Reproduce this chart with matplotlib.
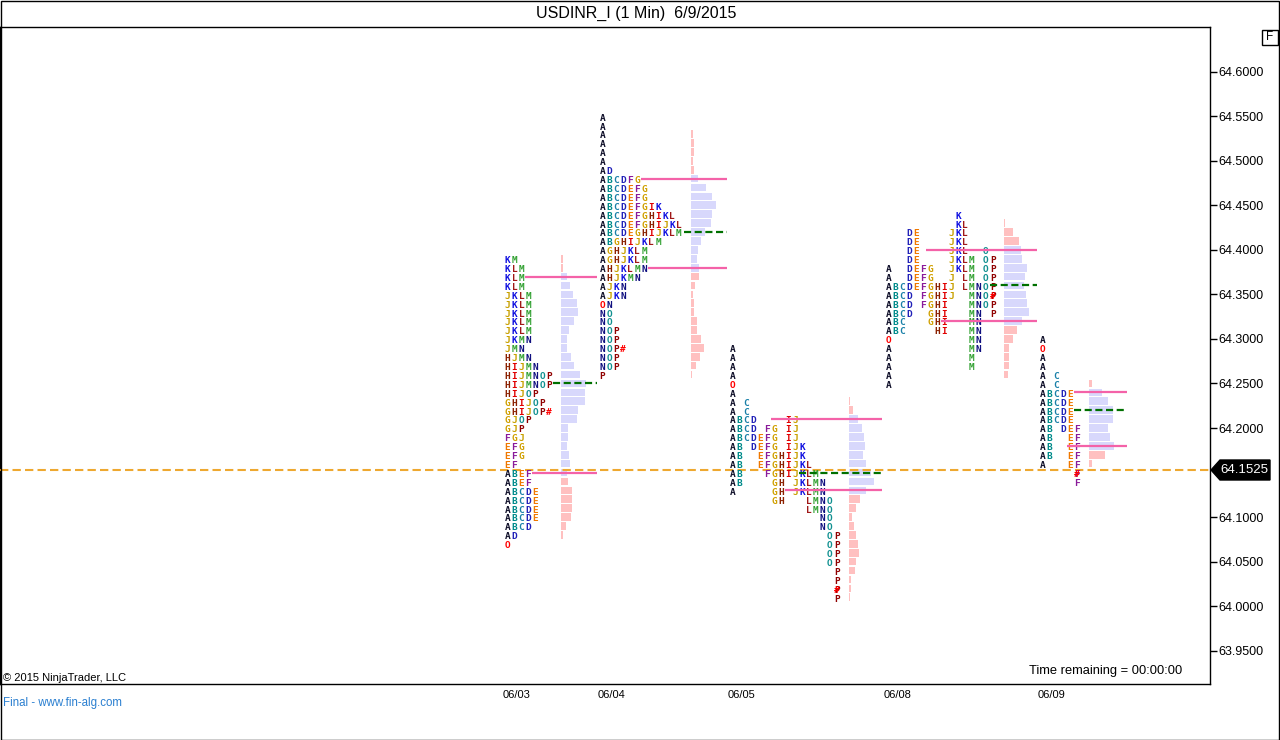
import numpy as np
import matplotlib
matplotlib.use("Agg")
import matplotlib.pyplot as plt
from matplotlib.patches import Polygon, Rectangle

W, H = 1280, 740

# ---- values ----
days = ["06/03", "06/04", "06/05", "06/08", "06/09"]

# TPO letters, one string per 0.01 row from the top price down
# '@' = red open marker, '#' = red close marker
tpo_top = [64.39, 64.55, 64.29, 64.44, 64.30]
tpo_0603 = ["KM", "KLM", "KLM", "KLM", "JKLM", "JKLM", "JKLM", "JKLM", "JKLM",
            "JKMN", "JMN", "HJMN", "HIJMN", "HIJMNOP", "HIJMNOP", "HIJOP",
            "GHIJOP", "GHIJOP#", "GJOP", "GJP", "FGJ", "EFG", "EFG", "EF",
            "ABEF", "ABEF", "ABCDE", "ABCDE", "ABCDE", "ABCDE", "ABCD", "AD", "@"]
tpo_0604 = ["A", "A", "A", "A", "A", "A", "AD", "ABCDFG", "ABCDEFG", "ABCDEFG",
            "ABCDEFGIK", "ABCDEFGHIKL", "ABCDEFGHIJKL", "ABCDEGHIJKLM",
            "ABGHIJKLM", "AGHJKLM", "AGHJKLM", "AHJKLMN", "AHJKMN", "AJKN",
            "AJKN", "@N", "NO", "NO", "NOP", "NOP", "NOP#", "NOP", "NOP", "P"]
tpo_0605 = ["A", "A", "A", "A", "@", "A", "AC", "AC", "ABCDIJ", "ABCDFGIJ",
            "ABCDEFGIJ", "ABDEFGIJK", "ABEFGHIJK", "ABEFGHIJKL", "ABFGHIJKLM",
            "ABGHJKLMN", "AGHJKLMN", "GHLMNO", "LMNO", "NO", "NO", "OP", "OP",
            "OP", "OP", "P", "P", "P#", "P"]
tpo_0608 = ["K", "KL", "DEJKL", "DEJKL", "DEJKLO", "DEJKLMOP", "ADEFGJKLMOP",
            "ADEFGJLMOP", "ABCDEFGHIJLMNOP", "ABCDFGHIJMNOP#", "ABCDFGHIMNOP",
            "ABCDGHIMNP", "ABCGHIMN", "ABCHIMN", "@MN", "AMN", "AM", "AM", "A", "A"]
tpo_0609 = ["A", "@", "A", "A", "AC", "AC", "ABCDE", "ABCDE", "ABCDE", "ABCDE",
            "ABDEF", "ABEF", "ABEF", "ABEF", "AEF", "F#", "F"]

# volume histogram, one value per 0.01 row from the top price down
vol_top = [64.39, 64.53, 64.23, 64.43, 64.25]
vol_0603 = [2, 2, 6, 9, 12, 16, 17, 13, 8, 6, 6, 10, 13, 19, 25, 24, 24, 17, 16,
            7, 7, 6, 8, 9, 6, 7, 11, 11, 11, 10, 5, 2]
vol_0604 = [2, 3, 3, 2, 3, 7, 15, 21, 25, 21, 20, 14, 10, 7, 6, 8, 8, 4, 2, 3,
            3, 6, 6, 10, 13, 9, 5, 1]
vol_0605 = [1, 4, 9, 13, 15, 16, 14, 17, 22, 25, 17, 11, 7, 3, 5, 7, 9, 10, 7,
            6, 2, 2, 1]
vol_0608 = [1, 9, 15, 17, 18, 23, 21, 20, 22, 23, 25, 18, 13, 9, 5, 5, 5, 4]
vol_0609 = [3, 13, 19, 24, 24, 19, 21, 25, 16, 3]

vah = [64.37, 64.48, 64.21, 64.40, 64.24]
poc = [64.25, 64.42, 64.15, 64.36, 64.22]
val = [64.15, 64.38, 64.13, 64.32, 64.18]
last_price = 64.1525
yticks = [63.95, 64.00, 64.05, 64.10, 64.20, 64.25, 64.30, 64.35, 64.40,
          64.45, 64.50, 64.55, 64.60]

tpo_rows = [tpo_0603, tpo_0604, tpo_0605, tpo_0608, tpo_0609]
vol_rows = [vol_0603, vol_0604, vol_0605, vol_0608, vol_0609]

# ---- layout (pixel units on x) ----
letter_x = [504, 599, 729, 885, 1039]
bar_x = [561, 691, 849, 1004, 1089]
positional = [False, False, True, True, True]
vah_x0 = [525, 641, 771, 926, 1074]
poc_x0 = [553, 684, 799, 990, 1074]
val_x0 = [532, 648, 785, 941, 1067]
line_x1 = [597, 727, 882, 1037, 1127]
PITCH = 6.95
TEXT_DROP = 0.0049

LETTERS = "ABCDEFGHIJKLMNOP"
letter_colors = {
    "A": "#10102a", "B": "#008b8b", "C": "#1a80a8", "D": "#2020b8",
    "E": "#f07800", "F": "#8a1a9a", "G": "#d0a000", "H": "#8b2000",
    "I": "#e00000", "J": "#c8a000", "K": "#1010e0", "L": "#a01818",
    "M": "#30a030", "N": "#101080", "O": "#109090", "P": "#900000",
}
BLUE_BAR = "#d8d8fc"
PINK_BAR = "#ffc0c0"
PINK_LINE = "#f462a8"
POC_GREEN = "#007000"
LAST_ORANGE = "#eea830"

y_top = 64.6 + 44.7 / 890.8
y_bot = 64.6 - 612.3 / 890.8

fig = plt.figure(figsize=(W / 100, H / 100), dpi=100)
ax = fig.add_axes([0, (H - 684) / H, 1210 / W, (684 - 27) / H])
ax.set_xlim(0, 1210)
ax.set_ylim(y_bot, y_top)


def draw_letters(rows, top, x0, by_slot):
    for k, row in enumerate(rows):
        y = top - 0.01 * k - TEXT_DROP
        col = 0
        last = 0
        for ch in row:
            if ch == "@":
                slot, txt, color = 0 if by_slot else col, "O", "#ff0000"
            elif ch == "#":
                slot, txt, color = (last if by_slot else col), "#", "#ff0000"
            else:
                slot = LETTERS.index(ch) if by_slot else col
                txt, color = ch, letter_colors[ch]
            ax.text(x0 + slot * PITCH + PITCH / 2, y, txt, ha="center",
                    va="baseline", color=color, fontsize=6.8,
                    family="DejaVu Sans Mono", fontweight="bold", zorder=4)
            last = slot
            col += 1


for i in range(len(days)):
    draw_letters(tpo_rows[i], tpo_top[i], letter_x[i], positional[i])

    prices = vol_top[i] - 0.01 * np.arange(len(vol_rows[i]))
    colors = [BLUE_BAR if val[i] - 1e-6 <= p <= vah[i] + 1e-6 else PINK_BAR
              for p in prices]
    ax.barh(prices, vol_rows[i], left=bar_x[i], height=0.0086,
            color=colors, linewidth=0, zorder=2)

    ax.plot([vah_x0[i], line_x1[i]], [vah[i], vah[i]], color=PINK_LINE,
            lw=1.6, solid_capstyle="butt", zorder=5)
    ax.plot([val_x0[i], line_x1[i]], [val[i], val[i]], color=PINK_LINE,
            lw=1.6, solid_capstyle="butt", zorder=5)
    ax.plot([poc_x0[i], line_x1[i]], [poc[i], poc[i]], color=POC_GREEN,
            lw=1.6, dashes=(3.2, 1.6), zorder=5)

ax.axhline(last_price, color=LAST_ORANGE, lw=1.5, dashes=(4, 2), zorder=3)

# axes styling
for s in ax.spines.values():
    s.set_color("black")
    s.set_linewidth(1)
ax.yaxis.tick_right()
ax.set_yticks(yticks)
ax.set_yticklabels(["%.4f" % t for t in yticks])
ax.tick_params(axis="y", length=5, width=1, pad=1, labelsize=9,
               labelfontfamily="Liberation Sans")
ax.set_xticks([x + 13 for x in letter_x])
ax.set_xticklabels(days)
ax.tick_params(axis="x", length=0, pad=4, labelsize=8,
               labelfontfamily="Liberation Sans")


def fx(x):
    return x / W


def fy(y):
    return 1 - y / H


# last price tag
tag = [(1211, 470), (1220, 460), (1270, 460), (1270, 480), (1220, 480)]
fig.add_artist(Polygon([(fx(a), fy(b)) for a, b in tag], closed=True,
                       transform=fig.transFigure, fc="black", ec="black"))
fig.text(fx(1244), fy(470), "%.4f" % last_price, color="white", fontsize=9.5,
         ha="center", va="center", family="Liberation Sans")

# texts around the panel
fig.text(fx(636), fy(13), "USDINR_I (1 Min)  6/9/2015", ha="center",
         va="center", fontsize=11.5, family="Liberation Sans")
fig.text(fx(3), fy(678), "\u00a9 2015 NinjaTrader, LLC", ha="left",
         va="center", fontsize=8, family="Liberation Sans")
fig.text(fx(3), fy(703), "Final - www.fin-alg.com", ha="left", va="center",
         fontsize=8.3, color="#2a7fd0", family="Liberation Sans")
fig.text(fx(1029), fy(671), "Time remaining = 00:00:00", ha="left",
         va="center", fontsize=9.3, family="Liberation Sans")

# "F" box and outer frame
fig.add_artist(Rectangle((fx(1262), fy(45)), 16 / W, 15 / H,
                         transform=fig.transFigure, fc="white", ec="black",
                         lw=1))
fig.text(fx(1270), fy(37.5), "F", ha="center", va="center", fontsize=8.5,
         family="Liberation Sans")
fig.add_artist(Rectangle((0.5 / W, 0.5 / H), 1 - 1.5 / W, 1 - 1.5 / H,
                         transform=fig.transFigure, fill=False, ec="black",
                         lw=1))

fig.savefig("out.png", dpi=100, facecolor="white")
